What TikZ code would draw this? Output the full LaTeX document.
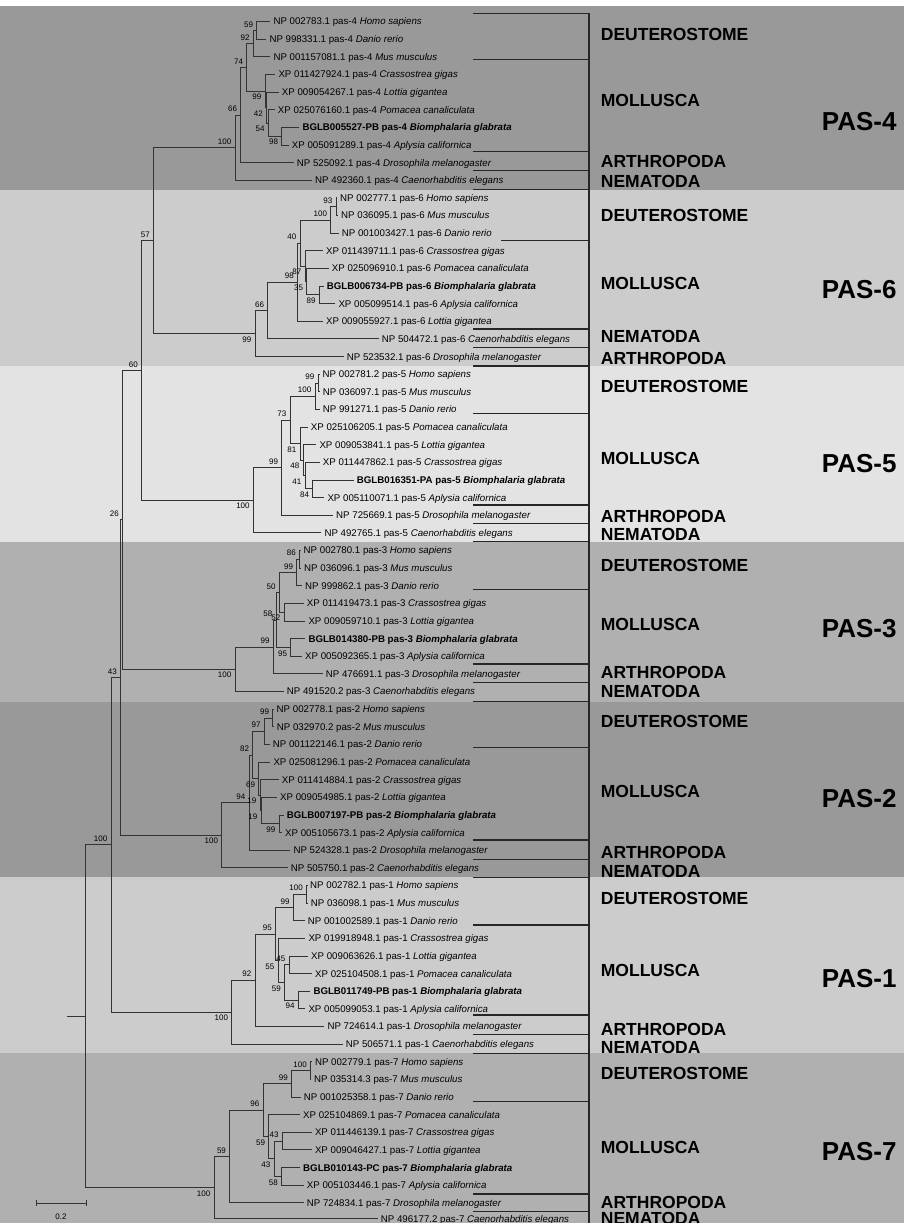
\documentclass[tikz,border=0pt]{standalone}
\usepackage{fontspec}
\setmainfont{Liberation Sans}
\usetikzlibrary{positioning}

\definecolor{bandA}{gray}{0.60}
\definecolor{bandB}{gray}{0.80}
\definecolor{bandC}{gray}{0.89}
\definecolor{bandD}{gray}{0.69}

\tikzset{
  leaf/.style={anchor=west, inner xsep=3pt, inner ysep=0pt, text height=7pt, text depth=0pt, font=\fontsize{9.7}{10}\selectfont},
  bs/.style={inner sep=1pt, font=\fontsize{8}{8}\selectfont},
  bsa/.style={bs, above left=2pt and 2.5pt},
  bsb/.style={bs, below left=2pt and 2.5pt},
  grp/.style={anchor=west, inner sep=0pt, font=\fontsize{17.5}{17.5}\selectfont\bfseries},
  pas/.style={anchor=west, inner sep=0pt, font=\fontsize{26}{26}\selectfont\bfseries},
  br/.style={line width=0.8pt, black!80},
  bk/.style={line width=1.3pt, black!85},
}

\begin{document}
\begin{tikzpicture}[x=1pt, y=-1pt]
  \useasboundingbox (0,0) rectangle (904,1223);

  % bands
  \fill[bandA] (0,6) rectangle (904,189.5);
  \fill[bandB] (0,189.5) rectangle (904,366);
  \fill[bandC] (0,366) rectangle (904,541.5);
  \fill[bandD] (0,541.5) rectangle (904,702);
  \fill[bandA] (0,702) rectangle (904,877);
  \fill[bandB] (0,877) rectangle (904,1053);
  \fill[bandD] (0,1053) rectangle (904,1223);

  % PAS-4
  \node[leaf] (hs4) at (270.3,21.5) {NP 002783.1 pas-4 \textit{Homo sapiens}};
  \node[leaf] (dr4) at (266.3,39.1) {NP 998331.1 pas-4 \textit{Danio rerio}};
  \node[leaf] (mm4) at (270.3,56.8) {NP 001157081.1 pas-4 \textit{Mus musculus}};
  \node[leaf] (cg4) at (275.3,74.4) {XP 011427924.1 pas-4 \textit{Crassostrea gigas}};
  \node[leaf] (lg4) at (278.7,92.0) {XP 009054267.1 pas-4 \textit{Lottia gigantea}};
  \node[leaf] (pc4) at (274.7,109.7) {XP 025076160.1 pas-4 \textit{Pomacea canaliculata}};
  \node[leaf] (bg4) at (299.3,127.3) {\bfseries BGLB005527-PB pas-4 \textit{Biomphalaria glabrata}};
  \node[leaf] (ac4) at (288.7,144.9) {XP 005091289.1 pas-4 \textit{Aplysia californica}};
  \node[leaf] (dm4) at (293.7,162.5) {NP 525092.1 pas-4 \textit{Drosophila melanogaster}};
  \node[leaf] (ce4) at (312,180.2) {NP 492360.1 pas-4 \textit{Caenorhabditis elegans}};

  \coordinate (n4a) at (256.7,30.3);
  \coordinate (n4b) at (253.3,43.6);
  \coordinate (n4c) at (246.7,67.3);
  \coordinate (n4d) at (265,91);
  \coordinate (n4e) at (266.5,107.5);
  \coordinate (n4f) at (268.3,122.9);
  \coordinate (n4g) at (281.7,136.1);
  \coordinate (n4h) at (240.7,114.9);
  \coordinate (n4i) at (235,147.6);

  \draw[br] (n4a) |- (hs4.west) (n4a) |- (dr4.west);
  \draw[br] (n4b) |- (n4a) (n4b) |- (mm4.west);
  \draw[br] (n4c) |- (n4b) (n4c) |- (n4d);
  \draw[br] (n4d) |- (cg4.west) (n4d) |- (n4e);
  \draw[br] (n4e) |- (lg4.west) (n4e) |- (n4f);
  \draw[br] (n4f) |- (pc4.west) (n4f) |- (n4g);
  \draw[br] (n4g) |- (bg4.west) (n4g) |- (ac4.west);
  \draw[br] (n4h) |- (n4c) (n4h) |- (dm4.west);
  \draw[br] (n4i) |- (n4h) (n4i) |- (ce4.west);

  \node[bsa] (b4a) at (n4a) {59};
  \node[bsa] (b4b) at (n4b) {92};
  \node[bsa] (b4c) at (n4c) {74};
  \node[bsb] (b4d) at (n4d) {99};
  \node[bsb] (b4e) at (n4e) {42};
  \node[bsb] (b4f) at (n4f) {54};
  \node[bsb] (b4g) at (n4g) {98};
  \node[bsa] (b4h) at (n4h) {66};
  \node[bsa] (b4i) at (n4i) {100};

  % PAS-6
  \node[leaf] (hs6) at (337,197.8) {NP 002777.1 pas-6 \textit{Homo sapiens}};
  \node[leaf] (mm6) at (338,215.4) {NP 036095.1 pas-6 \textit{Mus musculus}};
  \node[leaf] (dr6) at (338.7,233.1) {NP 001003427.1 pas-6 \textit{Danio rerio}};
  \node[leaf] (cg6) at (323,250.7) {XP 011439711.1 pas-6 \textit{Crassostrea gigas}};
  \node[leaf] (pc6) at (328.7,268.3) {XP 025096910.1 pas-6 \textit{Pomacea canaliculata}};
  \node[leaf] (bg6) at (323.7,286) {\bfseries BGLB006734-PB pas-6 \textit{Biomphalaria glabrata}};
  \node[leaf] (ac6) at (335.3,303.6) {XP 005099514.1 pas-6 \textit{Aplysia californica}};
  \node[leaf] (lg6) at (323,321.2) {XP 009055927.1 pas-6 \textit{Lottia gigantea}};
  \node[leaf] (ce6) at (378.7,338.8) {NP 504472.1 pas-6 \textit{Caenorhabditis elegans}};
  \node[leaf] (dm6) at (343.7,356.5) {NP 523532.1 pas-6 \textit{Drosophila melanogaster}};

  \coordinate (n6a) at (336,206.6);
  \coordinate (n6b) at (330.7,219.9);
  \coordinate (n6c) at (305,266.2);
  \coordinate (n6d) at (306.7,281.6);
  \coordinate (n6e) at (319.3,294.8);
  \coordinate (n6f) at (300,243.1);
  \coordinate (n6g) at (297.5,282.2);
  \coordinate (n6h) at (267.7,310.5);
  \coordinate (n6i) at (255,333.5);

  \draw[br] (n6a) |- (hs6.west) (n6a) |- (mm6.west);
  \draw[br] (n6b) |- (n6a) (n6b) |- (dr6.west);
  \draw[br] (n6c) |- (cg6.west) (n6c) |- (n6d);
  \draw[br] (n6d) |- (pc6.west) (n6d) |- (n6e);
  \draw[br] (n6e) |- (bg6.west) (n6e) |- (ac6.west);
  \draw[br] (n6f) |- (n6b) (n6f) |- (n6c);
  \draw[br] (n6g) |- (n6f) (n6g) |- (lg6.west);
  \draw[br] (n6h) |- (n6g) (n6h) |- (ce6.west);
  \draw[br] (n6i) |- (n6h) (n6i) |- (dm6.west);

  \node[bsa] (b6a) at (n6a) {93};
  \node[bsa] (b6b) at (n6b) {100};
  \node[bsb] (b6c) at (n6c) {87};
  \node[bsb] (b6d) at (n6d) {35};
  \node[bsb] (b6e) at (n6e) {89};
  \node[bsa] (b6f) at (n6f) {40};
  \node[bsa] (b6g) at (n6g) {98};
  \node[bsa] (b6h) at (n6h) {66};
  \node[bsb] (b6i) at (n6i) {99};

  % PAS-5
  \node[leaf] (hs5) at (319.5,374.1) {NP 002781.2 pas-5 \textit{Homo sapiens}};
  \node[leaf] (mm5) at (319.7,391.7) {NP 036097.1 pas-5 \textit{Mus musculus}};
  \node[leaf] (dr5) at (319.7,409.4) {NP 991271.1 pas-5 \textit{Danio rerio}};
  \node[leaf] (pc5) at (307.7,427) {XP 025106205.1 pas-5 \textit{Pomacea canaliculata}};
  \node[leaf] (lg5) at (316.3,444.6) {XP 009053841.1 pas-5 \textit{Lottia gigantea}};
  \node[leaf] (cg5) at (319.7,462.3) {XP 011447862.1 pas-5 \textit{Crassostrea gigas}};
  \node[leaf] (bg5) at (353.7,479.9) {\bfseries BGLB016351-PA pas-5 \textit{Biomphalaria glabrata}};
  \node[leaf] (ac5) at (324.3,497.5) {XP 005110071.1 pas-5 \textit{Aplysia californica}};
  \node[leaf] (dm5) at (333,515.1) {NP 725669.1 pas-5 \textit{Drosophila melanogaster}};
  \node[leaf] (ce5) at (321.3,532.8) {NP 492765.1 pas-5 \textit{Caenorhabditis elegans}};

  \coordinate (n5a) at (318,382.9);
  \coordinate (n5b) at (315,396.2);
  \coordinate (n5c) at (290,419.9);
  \coordinate (n5d) at (300,443.6);
  \coordinate (n5e) at (303,460.1);
  \coordinate (n5f) at (305,475.5);
  \coordinate (n5g) at (312.7,488.7);
  \coordinate (n5h) at (281.7,467.5);
  \coordinate (n5i) at (253.3,500.2);

  \draw[br] (n5a) |- (hs5.west) (n5a) |- (mm5.west);
  \draw[br] (n5b) |- (n5a) (n5b) |- (dr5.west);
  \draw[br] (n5c) |- (n5b) (n5c) |- (n5d);
  \draw[br] (n5d) |- (pc5.west) (n5d) |- (n5e);
  \draw[br] (n5e) |- (lg5.west) (n5e) |- (n5f);
  \draw[br] (n5f) |- (cg5.west) (n5f) |- (n5g);
  \draw[br] (n5g) |- (bg5.west) (n5g) |- (ac5.west);
  \draw[br] (n5h) |- (n5c) (n5h) |- (dm5.west);
  \draw[br] (n5i) |- (n5h) (n5i) |- (ce5.west);

  \node[bsa] (b5a) at (n5a) {99};
  \node[bsa] (b5b) at (n5b) {100};
  \node[bsa] (b5c) at (n5c) {73};
  \node[bsb] (b5d) at (n5d) {81};
  \node[bsb] (b5e) at (n5e) {48};
  \node[bsb] (b5f) at (n5f) {41};
  \node[bsb] (b5g) at (n5g) {84};
  \node[bsa] (b5h) at (n5h) {99};
  \node[bsb] (b5i) at (n5i) {100};

  % PAS-3
  \node[leaf] (hs3) at (300.5,550.4) {NP 002780.1 pas-3 \textit{Homo sapiens}};
  \node[leaf] (mm3) at (301,568) {NP 036096.1 pas-3 \textit{Mus musculus}};
  \node[leaf] (dr3) at (302,585.7) {NP 999862.1 pas-3 \textit{Danio rerio}};
  \node[leaf] (cg3) at (303.7,603.3) {XP 011419473.1 pas-3 \textit{Crassostrea gigas}};
  \node[leaf] (lg3) at (305.3,620.9) {XP 009059710.1 pas-3 \textit{Lottia gigantea}};
  \node[leaf] (bg3) at (305.3,638.6) {\bfseries BGLB014380-PB pas-3 \textit{Biomphalaria glabrata}};
  \node[leaf] (ac3) at (302,656.2) {XP 005092365.1 pas-3 \textit{Aplysia californica}};
  \node[leaf] (dm3) at (322.7,673.8) {NP 476691.1 pas-3 \textit{Drosophila melanogaster}};
  \node[leaf] (ce3) at (283.7,691.4) {NP 491520.2 pas-3 \textit{Caenorhabditis elegans}};

  \coordinate (n3a) at (299.5,559.2);
  \coordinate (n3b) at (296.7,572.5);
  \coordinate (n3c) at (284,612.1);
  \coordinate (n3d) at (279.3,592.3);
  \coordinate (n3e) at (290.7,647.4);
  \coordinate (n3f) at (276,619.9);
  \coordinate (n3g) at (273.3,646.9);
  \coordinate (n3h) at (235,669.2);

  \draw[br] (n3a) |- (hs3.west) (n3a) |- (mm3.west);
  \draw[br] (n3b) |- (n3a) (n3b) |- (dr3.west);
  \draw[br] (n3c) |- (cg3.west) (n3c) |- (lg3.west);
  \draw[br] (n3d) |- (n3b) (n3d) |- (n3c);
  \draw[br] (n3e) |- (bg3.west) (n3e) |- (ac3.west);
  \draw[br] (n3f) |- (n3d) (n3f) |- (n3e);
  \draw[br] (n3g) |- (n3f) (n3g) |- (dm3.west);
  \draw[br] (n3h) |- (n3g) (n3h) |- (ce3.west);

  \node[bsa] (b3a) at (n3a) {86};
  \node[bsa] (b3b) at (n3b) {99};
  \node[bsb] (b3c) at (n3c) {52};
  \node[bsa] (b3d) at (n3d) {50};
  \node[bsb] (b3e) at (n3e) {95};
  \node[bsa] (b3f) at (n3f) {58};
  \node[bsa] (b3g) at (n3g) {99};
  \node[bsb] (b3h) at (n3h) {100};

  % PAS-2
  \node[leaf] (hs2) at (273.5,709.1) {NP 002778.1 pas-2 \textit{Homo sapiens}};
  \node[leaf] (mm2) at (273.7,726.7) {NP 032970.2 pas-2 \textit{Mus musculus}};
  \node[leaf] (dr2) at (269.7,744.3) {NP 001122146.1 pas-2 \textit{Danio rerio}};
  \node[leaf] (pc2) at (270.3,762) {XP 025081296.1 pas-2 \textit{Pomacea canaliculata}};
  \node[leaf] (cg2) at (278.7,779.6) {XP 011414884.1 pas-2 \textit{Crassostrea gigas}};
  \node[leaf] (lg2) at (277,797.2) {XP 009054985.1 pas-2 \textit{Lottia gigantea}};
  \node[leaf] (bg2) at (283.7,814.9) {\bfseries BGLB007197-PB pas-2 \textit{Biomphalaria glabrata}};
  \node[leaf] (ac2) at (282,832.5) {XP 005105673.1 pas-2 \textit{Aplysia californica}};
  \node[leaf] (dm2) at (290.3,850.1) {NP 524328.1 pas-2 \textit{Drosophila melanogaster}};
  \node[leaf] (ce2) at (287.7,867.7) {NP 505750.1 pas-2 \textit{Caenorhabditis elegans}};

  \coordinate (n2a) at (272.7,717.9);
  \coordinate (n2b) at (264.3,731.1);
  \coordinate (n2c) at (252.7,754.9);
  \coordinate (n2d) at (258.7,778.6);
  \coordinate (n2e) at (260,795.1);
  \coordinate (n2f) at (261,810.5);
  \coordinate (n2g) at (279,823.7);
  \coordinate (n2h) at (249,802.5);
  \coordinate (n2i) at (221.7,835.1);

  \draw[br] (n2a) |- (hs2.west) (n2a) |- (mm2.west);
  \draw[br] (n2b) |- (n2a) (n2b) |- (dr2.west);
  \draw[br] (n2c) |- (n2b) (n2c) |- (n2d);
  \draw[br] (n2d) |- (pc2.west) (n2d) |- (n2e);
  \draw[br] (n2e) |- (cg2.west) (n2e) |- (n2f);
  \draw[br] (n2f) |- (lg2.west) (n2f) |- (n2g);
  \draw[br] (n2g) |- (bg2.west) (n2g) |- (ac2.west);
  \draw[br] (n2h) |- (n2c) (n2h) |- (dm2.west);
  \draw[br] (n2i) |- (n2h) (n2i) |- (ce2.west);

  \node[bsa] (b2a) at (n2a) {99};
  \node[bsa] (b2b) at (n2b) {97};
  \node[bsa] (b2c) at (n2c) {82};
  \node[bsb] (b2d) at (n2d) {69};
  \node[bsb] (b2e) at (n2e) {19};
  \node[bsb] (b2f) at (n2f) {19};
  \node[bsb] (b2g) at (n2g) {99};
  \node[bsa] (b2h) at (n2h) {94};
  \node[bsb] (b2i) at (n2i) {100};

  % PAS-1
  \node[leaf] (hs1) at (307,885.4) {NP 002782.1 pas-1 \textit{Homo sapiens}};
  \node[leaf] (mm1) at (307.7,903) {NP 036098.1 pas-1 \textit{Mus musculus}};
  \node[leaf] (dr1) at (304.7,920.6) {NP 001002589.1 pas-1 \textit{Danio rerio}};
  \node[leaf] (cg1) at (305.3,938.3) {XP 019918948.1 pas-1 \textit{Crassostrea gigas}};
  \node[leaf] (lg1) at (308,955.9) {XP 009063626.1 pas-1 \textit{Lottia gigantea}};
  \node[leaf] (pc1) at (312,973.5) {XP 025104508.1 pas-1 \textit{Pomacea canaliculata}};
  \node[leaf] (bg1) at (310.3,991.2) {\bfseries BGLB011749-PB pas-1 \textit{Biomphalaria glabrata}};
  \node[leaf] (ac1) at (305.3,1008.8) {XP 005099053.1 pas-1 \textit{Aplysia californica}};
  \node[leaf] (dm1) at (324.3,1026.4) {NP 724614.1 pas-1 \textit{Drosophila melanogaster}};
  \node[leaf] (ce1) at (342.7,1044) {NP 506571.1 pas-1 \textit{Caenorhabditis elegans}};

  \coordinate (n1a) at (306.5,894.2);
  \coordinate (n1b) at (293.3,907.4);
  \coordinate (n1c) at (275.5,933.9);
  \coordinate (n1d) at (289,964.7);
  \coordinate (n1e) at (298.3,1000);
  \coordinate (n1f) at (284.5,982.4);
  \coordinate (n1g) at (278,960.4);
  \coordinate (n1h) at (255,980.2);
  \coordinate (n1i) at (231.7,1012.1);

  \draw[br] (n1a) |- (hs1.west) (n1a) |- (mm1.west);
  \draw[br] (n1b) |- (n1a) (n1b) |- (dr1.west);
  \draw[br] (n1c) |- (n1b) (n1c) |- (n1g);
  \draw[br] (n1d) |- (lg1.west) (n1d) |- (pc1.west);
  \draw[br] (n1e) |- (bg1.west) (n1e) |- (ac1.west);
  \draw[br] (n1f) |- (n1d) (n1f) |- (n1e);
  \draw[br] (n1g) |- (cg1.west) (n1g) |- (n1f);
  \draw[br] (n1h) |- (n1c) (n1h) |- (dm1.west);
  \draw[br] (n1i) |- (n1h) (n1i) |- (ce1.west);

  \node[bsa] (b1a) at (n1a) {100};
  \node[bsa] (b1b) at (n1b) {99};
  \node[bsa] (b1c) at (n1c) {95};
  \node[bsa] (b1d) at (n1d) {45};
  \node[bsb] (b1e) at (n1e) {94};
  \node[bsb] (b1f) at (n1f) {59};
  \node[bsb] (b1g) at (n1g) {55};
  \node[bsa] (b1h) at (n1h) {92};
  \node[bsb] (b1i) at (n1i) {100};

  % PAS-7
  \node[leaf] (hs7) at (311.8,1061.7) {NP 002779.1 pas-7 \textit{Homo sapiens}};
  \node[leaf] (mm7) at (311,1079.3) {NP 035314.3 pas-7 \textit{Mus musculus}};
  \node[leaf] (dr7) at (300.7,1096.9) {NP 001025358.1 pas-7 \textit{Danio rerio}};
  \node[leaf] (pc7) at (300,1114.6) {XP 025104869.1 pas-7 \textit{Pomacea canaliculata}};
  \node[leaf] (cg7) at (311.8,1132.2) {XP 011446139.1 pas-7 \textit{Crassostrea gigas}};
  \node[leaf] (lg7) at (311.8,1149.8) {XP 009046427.1 pas-7 \textit{Lottia gigantea}};
  \node[leaf] (bg7) at (300,1167.5) {\bfseries BGLB010143-PC pas-7 \textit{Biomphalaria glabrata}};
  \node[leaf] (ac7) at (303.7,1185.1) {XP 005103446.1 pas-7 \textit{Aplysia californica}};
  \node[leaf] (dm7) at (303.7,1202.7) {NP 724834.1 pas-7 \textit{Drosophila melanogaster}};
  \node[leaf] (ce7) at (377.7,1218.6) {NP 496177.2 pas-7 \textit{Caenorhabditis elegans}};

  \coordinate (n7a) at (310.4,1070.5);
  \coordinate (n7b) at (291.5,1083.7);
  \coordinate (n7c) at (263,1110.2);
  \coordinate (n7d) at (282.2,1141);
  \coordinate (n7e) at (281.5,1176.3);
  \coordinate (n7f) at (274,1158.7);
  \coordinate (n7g) at (268.7,1136.7);
  \coordinate (n7h) at (229.6,1156.5);
  \coordinate (n7i) at (214,1187.6);

  \draw[br] (n7a) |- (hs7.west) (n7a) |- (mm7.west);
  \draw[br] (n7b) |- (n7a) (n7b) |- (dr7.west);
  \draw[br] (n7c) |- (n7b) (n7c) |- (n7g);
  \draw[br] (n7d) |- (cg7.west) (n7d) |- (lg7.west);
  \draw[br] (n7e) |- (bg7.west) (n7e) |- (ac7.west);
  \draw[br] (n7f) |- (n7d) (n7f) |- (n7e);
  \draw[br] (n7g) |- (pc7.west) (n7g) |- (n7f);
  \draw[br] (n7h) |- (n7c) (n7h) |- (dm7.west);
  \draw[br] (n7i) |- (n7h) (n7i) |- (ce7.west);

  \node[bsa] (b7a) at (n7a) {100};
  \node[bsa] (b7b) at (n7b) {99};
  \node[bsa] (b7c) at (n7c) {96};
  \node[bsa] (b7d) at (n7d) {43};
  \node[bsb] (b7e) at (n7e) {58};
  \node[bsb] (b7f) at (n7f) {43};
  \node[bsb] (b7g) at (n7g) {59};
  \node[bsa] (b7h) at (n7h) {59};
  \node[bsb] (b7i) at (n7i) {100};

  % backbone
  \coordinate (k57) at (153.5,240.6);
  \coordinate (k60) at (141.5,370.4);
  \coordinate (k26) at (122.5,519.8);
  \coordinate (k43) at (120.5,677.5);
  \coordinate (k100) at (111,844.8);
  \coordinate (root) at (85.7,1016.2);
  \coordinate (base) at (66.7,1016.2);

  \draw[br] (k57) |- (n4i) (k57) |- (n6i);
  \draw[br] (k60) |- (k57) (k60) |- (n5i);
  \draw[br] (k26) |- (k60) (k26) |- (n3h);
  \draw[br] (k43) |- (k26) (k43) |- (n2i);
  \draw[br] (k100) |- (k43) (k100) |- (n1i);
  \draw[br] (root) |- (k100) (root) |- (n7i);
  \draw[br] (base) -- (root);

  \node[bsa] (c57) at (k57) {57};
  \node[bsa] (c60) at (k60) {60};
  \node[bsa] (c26) at (k26) {26};
  \node[bsa] (c43) at (k43) {43};
  \node[bsa] (c100) at (k100) {100};

  % scale bar
  \coordinate (sbl) at (36.5,1203);
  \coordinate (sbr) at (86,1203);
  \draw[br] (sbl) -- (sbr);
  \draw[br] ([yshift=3pt]sbl) -- ([yshift=-3pt]sbl);
  \draw[br] ([yshift=3pt]sbr) -- ([yshift=-3pt]sbr);
  \node[bs] (sbt) at (61,1216.5) {0.2};

  % brackets
  \draw[bk] (589,13.3) -- (589,1223);
  \draw[bk] (473,13.3) -- (589,13.3) (473,59.3) -- (589,59.3) (473,151.7) -- (589,151.7)
            (473,170.7) -- (589,170.7) (473,189.3) -- (589,189.3);
  \draw[bk] (501,240.3) -- (589,240.3) (473,329) -- (589,329) (473,347.7) -- (589,347.7)
            (473,366) -- (589,366);
  \draw[bk] (473,413.3) -- (589,413.3) (473,505) -- (589,505) (473,523.3) -- (589,523.3)
            (473,541.7) -- (589,541.7);
  \draw[bk] (473,589.3) -- (589,589.3) (473,664) -- (589,664) (473,682.3) -- (589,682.3)
            (473,701.7) -- (589,701.7);
  \draw[bk] (473,747.7) -- (589,747.7) (473,840) -- (589,840) (473,859.3) -- (589,859.3)
            (473,877.7) -- (589,877.7);
  \draw[bk] (473,925) -- (589,925) (473,1015) -- (589,1015) (473,1034.3) -- (589,1034.3)
            (473,1053.3) -- (589,1053.3);
  \draw[bk] (473,1101.7) -- (589,1101.7) (473,1194) -- (589,1194) (473,1211.5) -- (589,1211.5);

  % groups
  \node[grp] (g4d) at (600.7,34) {DEUTEROSTOME};
  \node[grp] (g4m) at (600.7,100) {MOLLUSCA};
  \node[grp] (g4a) at (600.7,161.7) {ARTHROPODA};
  \node[grp] (g4n) at (600.7,181.7) {NEMATODA};
  \node[pas] (p4) at (821.7,121.7) {PAS-4};

  \node[grp] (g6d) at (600.7,215) {DEUTEROSTOME};
  \node[grp] (g6m) at (600.7,283.3) {MOLLUSCA};
  \node[grp] (g6n) at (600.7,336.7) {NEMATODA};
  \node[grp] (g6a) at (600.7,358.3) {ARTHROPODA};
  \node[pas] (p6) at (821.7,290) {PAS-6};

  \node[grp] (g5d) at (600.7,386.7) {DEUTEROSTOME};
  \node[grp] (g5m) at (600.7,458.3) {MOLLUSCA};
  \node[grp] (g5a) at (600.7,516.7) {ARTHROPODA};
  \node[grp] (g5n) at (600.7,534.3) {NEMATODA};
  \node[pas] (p5) at (821.7,463.3) {PAS-5};

  \node[grp] (g3d) at (600.7,565) {DEUTEROSTOME};
  \node[grp] (g3m) at (600.7,624) {MOLLUSCA};
  \node[grp] (g3a) at (600.7,672.7) {ARTHROPODA};
  \node[grp] (g3n) at (600.7,691) {NEMATODA};
  \node[pas] (p3) at (821.7,628.3) {PAS-3};

  \node[grp] (g2d) at (600.7,721.7) {DEUTEROSTOME};
  \node[grp] (g2m) at (600.7,791.7) {MOLLUSCA};
  \node[grp] (g2a) at (600.7,852.7) {ARTHROPODA};
  \node[grp] (g2n) at (600.7,871.7) {NEMATODA};
  \node[pas] (p2) at (821.7,798.3) {PAS-2};

  \node[grp] (g1d) at (600.7,898.3) {DEUTEROSTOME};
  \node[grp] (g1m) at (600.7,970.7) {MOLLUSCA};
  \node[grp] (g1a) at (600.7,1029.3) {ARTHROPODA};
  \node[grp] (g1n) at (600.7,1047.3) {NEMATODA};
  \node[pas] (p1) at (821.7,978.3) {PAS-1};

  \node[grp] (g7d) at (600.7,1073.3) {DEUTEROSTOME};
  \node[grp] (g7m) at (600.7,1147.3) {MOLLUSCA};
  \node[grp] (g7a) at (600.7,1202.5) {ARTHROPODA};
  \node[grp] (g7n) at (600.7,1218.2) {NEMATODA};
  \node[pas] (p7) at (821.7,1151.7) {PAS-7};
\end{tikzpicture}
\end{document}
